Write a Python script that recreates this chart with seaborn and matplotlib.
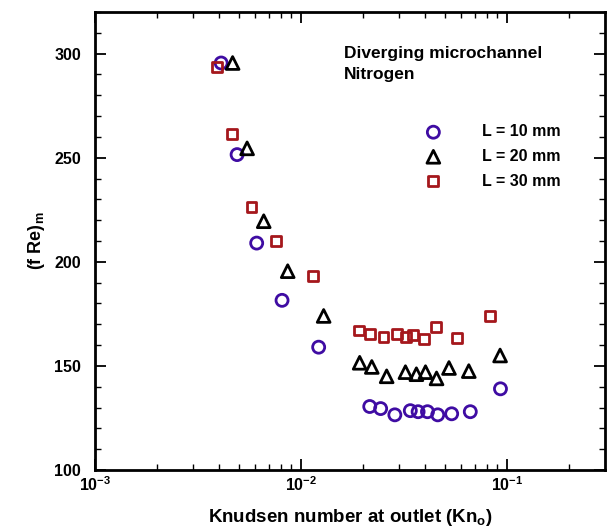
import numpy as np
import pandas as pd
import matplotlib
matplotlib.use("Agg")
import matplotlib.pyplot as plt
import seaborn as sns
from matplotlib.ticker import FixedLocator, FixedFormatter, NullFormatter

# ---- data ----
kn_10 = [0.0041, 0.0049, 0.0061, 0.0081, 0.0122, 0.0216, 0.0244, 0.0286, 0.0340, 0.0371, 0.0412, 0.0462, 0.0540, 0.0665, 0.0932]
fre_10 = [295.5, 251.5, 209, 181.5, 159, 130.5, 129.5, 126.5, 128.5, 128, 128, 126.5, 127, 128, 139]

kn_20 = [0.00466, 0.00548, 0.0066, 0.00863, 0.0129, 0.0193, 0.0221, 0.0261, 0.0322, 0.0364, 0.0403, 0.0456, 0.0524, 0.0654, 0.0928]
fre_20 = [295.5, 254.5, 219.5, 195.5, 174, 151.5, 149.5, 145, 147, 146, 147, 144, 149, 147.5, 155]

kn_30 = [0.0039, 0.00464, 0.00576, 0.00754, 0.0115, 0.0192, 0.0216, 0.0252, 0.0294, 0.0324, 0.0349, 0.0395, 0.0455, 0.0574, 0.0830]
fre_30 = [293.5, 261.5, 226.5, 210, 193, 167, 165.5, 164, 165.5, 164, 165, 163, 168.5, 163.5, 174]

series_labels = ["L = 10 mm", "L = 20 mm", "L = 30 mm"]
x_ticks = [1e-3, 1e-2, 1e-1]
x_tick_labels = ["$10^{-3}$", "$10^{-2}$", "$10^{-1}$"]
y_ticks = [100, 150, 200, 250, 300]

df = pd.concat([
    pd.DataFrame({"Kn": kn_10, "fRe": fre_10, "L": series_labels[0]}),
    pd.DataFrame({"Kn": kn_20, "fRe": fre_20, "L": series_labels[1]}),
    pd.DataFrame({"Kn": kn_30, "fRe": fre_30, "L": series_labels[2]}),
])

sns.set_style("ticks")
plt.rcParams["font.family"] = ["Liberation Sans", "DejaVu Sans"]
plt.rcParams["font.weight"] = "bold"
plt.rcParams["text.color"] = "black"
plt.rcParams["axes.labelcolor"] = "black"
plt.rcParams["xtick.color"] = "black"
plt.rcParams["ytick.color"] = "black"
plt.rcParams["mathtext.fontset"] = "custom"
plt.rcParams["mathtext.rm"] = "Liberation Sans:bold"
plt.rcParams["mathtext.it"] = "Liberation Sans:bold"
plt.rcParams["mathtext.bf"] = "Liberation Sans:bold"
plt.rcParams["mathtext.default"] = "rm"

fig = plt.figure(figsize=(6.12, 5.31), dpi=100)
ax = fig.add_axes([95/612, 1 - 470/531, 510/612, 458/531])

styles = {
    series_labels[0]: dict(marker="o", color="#3f0ca3", s=75),
    series_labels[1]: dict(marker="^", color="#000000", s=85),
    series_labels[2]: dict(marker="s", color="#a5171c", s=50),
}
handles = []
for lab in series_labels:
    st = styles[lab]
    sub = df[df["L"] == lab]
    sns.scatterplot(data=sub, x="Kn", y="fRe", ax=ax, marker=st["marker"], s=st["s"],
                    facecolors="none", edgecolor=st["color"], linewidth=2.0, legend=False)
    h = ax.scatter([], [], marker=st["marker"], s=st["s"], facecolors="none",
                   edgecolors=st["color"], linewidths=2.0, label=lab)
    handles.append(h)

ax.set_xscale("log")
ax.set_xlim(1e-3, 0.3)
ax.set_ylim(100, 320)
ax.xaxis.set_major_locator(FixedLocator(x_ticks))
ax.xaxis.set_major_formatter(FixedFormatter(x_tick_labels))
ax.xaxis.set_minor_locator(FixedLocator([m * d for d in [1e-3, 1e-2, 1e-1] for m in range(2, 10) if m * d <= 0.3]))
ax.xaxis.set_minor_formatter(NullFormatter())
ax.yaxis.set_major_locator(FixedLocator(y_ticks))
ax.yaxis.set_minor_locator(FixedLocator(list(range(100, 321, 10))))

ax.tick_params(which="both", direction="in", top=True, right=True, width=1.3, labelsize=11.5, colors="black")
ax.tick_params(which="major", length=8)
ax.tick_params(which="minor", length=4.5, width=1)
ax.tick_params(axis="x", which="major", pad=4)
ax.tick_params(axis="y", which="major", pad=10)
for sp in ax.spines.values():
    sp.set_linewidth(2)
    sp.set_color("black")

ax.set_xlabel("Knudsen number at outlet (Kn$_o$)", fontsize=13.5, fontweight="bold", labelpad=9, color="black")
ax.set_ylabel("(f Re)$_m$", fontsize=13, fontweight="bold", labelpad=5, color="black")

ax.text(344/612, 1 - 46/531, "Diverging microchannel\nNitrogen", transform=fig.transFigure,
        fontsize=12.5, fontweight="bold", va="top", ha="left", linespacing=1.5, color="black")

leg = ax.legend(handles=handles, loc="upper left", bbox_to_anchor=(415/612, 1 - 118/531),
                bbox_transform=fig.transFigure, frameon=False, fontsize=11.5,
                handletextpad=2.3, labelspacing=0.6, borderaxespad=0, handlelength=1.5)
for t in leg.get_texts():
    t.set_fontweight("bold")
    t.set_color("black")

fig.savefig("out.png", dpi=100)
